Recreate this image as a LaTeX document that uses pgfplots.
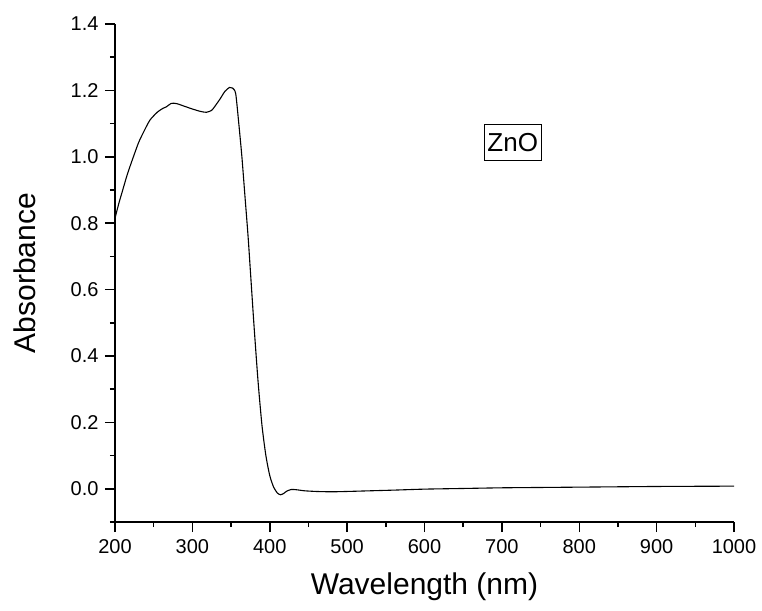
\documentclass[border=0pt]{standalone}
\usepackage{fontspec}
\setmainfont{Liberation Sans}
\usepackage{pgfplots}
\pgfplotsset{compat=1.18}

\begin{document}
\begin{tikzpicture}
\begin{axis}[
    scale only axis,
    width=619pt, height=498pt,
    xmin=200, xmax=1000,
    ymin=-0.1, ymax=1.4,
    axis lines=left,
    axis line style={-, line width=1.5pt},
    xtick={200,300,...,1000},
    ytick={0,0.2,...,1.4},
    minor xtick={250,350,...,950},
    minor ytick={-0.1,0.1,0.3,...,1.3},
    tick align=outside,
    major tick length=10pt,
    minor tick length=5pt,
    every tick/.style={black, line width=1.5pt},
    /pgf/number format/assume math mode=true,
    /pgf/number format/.cd, fixed, fixed zerofill, precision=1, /pgfplots/.cd,
    xticklabel style={/pgf/number format/precision=0, /pgf/number format/fixed zerofill=false, /pgf/number format/1000 sep={}, yshift=-4pt},
    yticklabel style={xshift=-3pt},
    tick label style={font=\fontsize{20}{24}\selectfont},
    xlabel={Wavelength (nm)},
    ylabel={Absorbance},
    label style={font=\fontsize{30}{36}\selectfont},
    xlabel style={at={(axis description cs:0.5,-0.1305)}, anchor=center},
    ylabel style={at={(axis description cs:-0.1454,0.5)}, anchor=center},
    clip=false,
]
\addplot[black, line width=1.1pt, smooth, tension=0.4] coordinates {
(200,0.815) (205,0.86) (210,0.90) (215,0.94) (220,0.975) (230,1.04)
(236,1.07) (245,1.11) (255,1.135) (262,1.146) (266,1.150) (273,1.161)
(280,1.160) (290,1.152) (300,1.144) (310,1.137) (318,1.134) (325,1.140)
(330,1.155) (336,1.175) (342,1.197) (348,1.209) (352,1.207) (356,1.19)
(360,1.10) (364,1.00) (368,0.88) (372,0.76) (376,0.62) (380,0.48)
(385,0.32) (390,0.19) (395,0.10) (400,0.04) (405,0.005) (410,-0.013)
(414,-0.018) (418,-0.014) (422,-0.007) (428,-0.002) (435,-0.003)
(445,-0.006) (460,-0.008) (480,-0.009) (500,-0.008) (530,-0.006)
(560,-0.004) (600,-0.001) (650,0.001) (700,0.003) (750,0.004)
(800,0.005) (900,0.007) (1000,0.008)
};
\node[draw, line width=1pt, font=\fontsize{26}{30}\selectfont,
      minimum width=57pt, minimum height=36pt, inner sep=2pt]
      at (axis cs:714,1.042) {ZnO};
\end{axis}
\path (current axis.south west) ++(-115pt,-88pt) rectangle ++(762pt,610pt);
\end{tikzpicture}
\end{document}
